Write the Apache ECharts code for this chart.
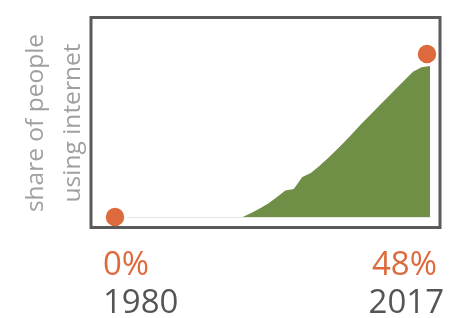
<!DOCTYPE html>
<html>
<head>
<meta charset="utf-8">
<script src="https://cdn.jsdelivr.net/npm/echarts@6/dist/echarts.min.js"></script>
<style>
  html, body { margin: 0; padding: 0; background: #fff; }
  #chart { width: 449px; height: 318px; }
</style>
</head>
<body>
<div id="chart"></div>
<script>
// years on the x axis
const years = [
  '1980', '1981', '1982', '1983', '1984', '1985', '1986', '1987', '1988', '1989',
  '1990', '1991', '1992', '1993', '1994', '1995', '1996', '1997', '1998', '1999',
  '2000', '2001', '2002', '2003', '2004', '2005', '2006', '2007', '2008', '2009',
  '2010', '2011', '2012', '2013', '2014', '2015', '2016', '2017'
];
// share of people using internet, %
const share = [
  0, 0, 0, 0, 0, 0, 0, 0, 0, 0,
  0, 0, 0, 0, 0, 0, 1.3, 2.7, 4.3, 6.3,
  8.4, 8.9, 12.7, 14.0, 16.2, 18.7, 21.3, 24.0, 26.9, 29.8,
  32.5, 35.3, 38.0, 40.8, 43.5, 46.2, 47.6, 48
];
const axisTitle = ['share of people', 'using internet'];

const orange = '#dd6a3c';
const green = '#708f46';
const last = years.length - 1;
const font = '"Open Sans", "DejaVu Sans", sans-serif';

let myChart = echarts.init(document.getElementById('chart'));

let option = {
  animation: false,
  grid: { left: 115, right: 19, top: 66, bottom: 101 },
  xAxis: {
    type: 'category',
    data: years,
    boundaryGap: false,
    axisLine: { show: true, lineStyle: { color: '#e6e6e6', width: 1 } },
    axisTick: { show: false },
    axisLabel: { show: false },
    splitLine: { show: false }
  },
  yAxis: {
    type: 'value',
    min: 0,
    max: 48,
    show: false
  },
  series: [
    {
      type: 'line',
      data: share,
      symbol: 'none',
      lineStyle: { width: 0 },
      areaStyle: { color: green, opacity: 1 }
    },
    {
      type: 'scatter',
      symbolSize: 21,
      itemStyle: { color: orange, borderColor: '#fff', borderWidth: 2.5, opacity: 1 },
      data: [
        { value: [0, share[0]] },
        { value: [last, share[last]], symbolOffset: [-3, -12] }
      ],
      z: 5
    }
  ],
  graphic: [
    {
      type: 'rect',
      shape: { x: 91, y: 17.5, width: 349, height: 210 },
      style: { fill: 'none', stroke: '#5a5a5a', lineWidth: 3 },
      z: 10
    },
    {
      type: 'text',
      x: 55, y: 123,
      rotation: Math.PI / 2,
      style: {
        text: axisTitle.join('\n'),
        fill: '#a0a0a0',
        font: '24.5px ' + font,
        lineHeight: 37,
        align: 'center',
        verticalAlign: 'middle'
      }
    },
    {
      type: 'text', x: 103, y: 266,
      style: { text: share[0] + '%', fill: orange, font: '33px ' + font, align: 'left', verticalAlign: 'middle' }
    },
    {
      type: 'text', x: 437, y: 266,
      style: { text: share[last] + '%', fill: orange, font: '33px ' + font, align: 'right', verticalAlign: 'middle' }
    },
    {
      type: 'text', x: 103, y: 304,
      style: { text: years[0], fill: '#555', font: '33px ' + font, align: 'left', verticalAlign: 'middle' }
    },
    {
      type: 'text', x: 444, y: 304,
      style: { text: years[last], fill: '#555', font: '33px ' + font, align: 'right', verticalAlign: 'middle' }
    }
  ]
};

myChart.setOption(option);
window.addEventListener('resize', function () {
  myChart.resize();
});
</script>
</body>
</html>
